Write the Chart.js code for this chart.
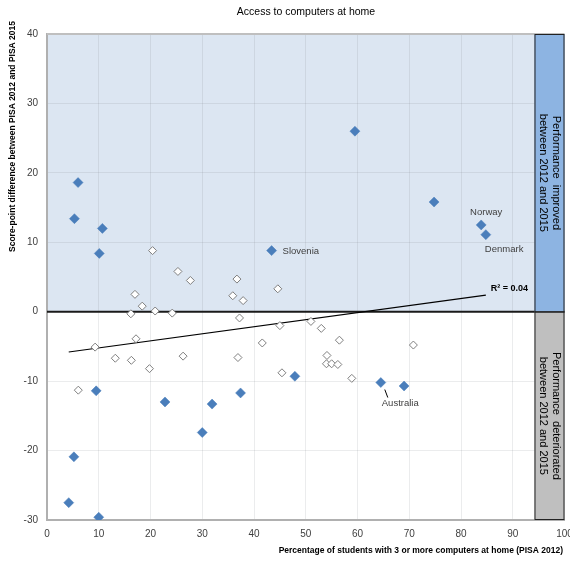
<!DOCTYPE html>
<html>
<head>
<meta charset="utf-8">
<script src="https://cdn.jsdelivr.net/npm/chart.js@4/dist/chart.umd.min.js"></script>
<style>
  html, body { margin: 0; padding: 0; background: #fff; }
</style>
</head>
<body>
<canvas id="chart" width="570" height="561"></canvas>
<script>
// significant changes (filled diamonds)
const sigX = [6.0, 5.3, 10.7, 10.1, 43.4, 59.5, 74.8, 83.9, 84.8, 9.5, 22.8, 31.9, 37.4, 30.0, 5.2, 4.2, 10.0, 47.9, 64.5, 69.0];
const sigY = [18.6, 13.4, 12.0, 8.4, 8.8, 26.0, 15.8, 12.5, 11.1, -11.4, -13.0, -13.3, -11.7, -17.4, -20.9, -27.5, -29.6, -9.3, -10.2, -10.7];
const sigNames = ["", "", "", "", "Slovenia", "", "", "Norway", "Denmark", "", "", "", "", "", "", "", "", "", "Australia", ""];

// non-significant changes (hollow diamonds)
const nsX = [20.4, 25.3, 27.7, 17.0, 18.4, 16.2, 20.9, 24.2, 36.7, 35.9, 37.9, 44.6, 37.2, 17.2, 9.3, 13.2, 16.3, 19.8, 26.3, 6.05, 45.0, 51.0, 53.0, 56.5, 41.6, 36.9, 54.1, 54.0, 55.0, 56.2, 45.4, 58.9, 70.8];
const nsY = [8.8, 5.8, 4.5, 2.5, 0.8, -0.3, 0.1, -0.2, 4.7, 2.3, 1.6, 3.3, -0.9, -3.9, -5.1, -6.7, -7.0, -8.2, -6.4, -11.3, -2.0, -1.4, -2.4, -4.1, -4.5, -6.6, -6.3, -7.5, -7.5, -7.6, -8.8, -9.6, -4.8];

// linear trend line
const trendX = [4.2, 84.8];
const trendY = [-5.8, 2.4];
const r2Label = "R² = 0.04";

const xTicks = [0, 10, 20, 30, 40, 50, 60, 70, 80, 90, 100];
const yTicks = [-30, -20, -10, 0, 10, 20, 30, 40];
const panelFrom = 94.2;

const FONT = "'Liberation Sans', Arial, sans-serif";

const decor = {
    id: 'decor',
    beforeDraw(chart) {
        const ctx = chart.ctx;
        const { left, right, top } = chart.chartArea;
        const y0 = chart.scales.y.getPixelForValue(0);
        ctx.save();
        ctx.fillStyle = '#fff';
        ctx.fillRect(0, 0, chart.width, chart.height);
        ctx.fillStyle = '#dce6f2';
        ctx.fillRect(left, top, right - left, y0 - top);
        ctx.restore();
    },
    beforeDatasetsDraw(chart) {
        const ctx = chart.ctx;
        const { left, right } = chart.chartArea;
        const y0 = chart.scales.y.getPixelForValue(0);
        ctx.save();
        ctx.strokeStyle = '#1a1a1a';
        ctx.lineWidth = 2;
        ctx.beginPath();
        ctx.moveTo(left, y0);
        ctx.lineTo(right, y0);
        ctx.stroke();
        ctx.restore();
    },
    afterDatasetsDraw(chart) {
        const ctx = chart.ctx;
        const xs = chart.scales.x, ys = chart.scales.y;
        const { left, right, top, bottom } = chart.chartArea;
        const y0 = ys.getPixelForValue(0);
        const px0 = xs.getPixelForValue(panelFrom);

        ctx.save();
        // top frame
        ctx.strokeStyle = '#bfbfbf';
        ctx.lineWidth = 2;
        ctx.beginPath();
        ctx.moveTo(left, top);
        ctx.lineTo(right, top);
        ctx.stroke();

        // side panels
        ctx.fillStyle = '#8db4e2';
        ctx.fillRect(px0, top, right - px0, y0 - top);
        ctx.fillStyle = '#bfbfbf';
        ctx.fillRect(px0, y0, right - px0, bottom - y0);
        ctx.strokeStyle = '#222';
        ctx.lineWidth = 1;
        ctx.strokeRect(px0 + 0.5, top + 0.5, right - px0 - 1, y0 - top);
        ctx.strokeRect(px0 + 0.5, y0, right - px0 - 1, bottom - y0 - 0.5);

        const vtext = (lines, cx, cy) => {
            ctx.save();
            ctx.translate(cx, cy);
            ctx.rotate(Math.PI / 2);
            ctx.fillStyle = '#000';
            ctx.font = "11px " + FONT;
            ctx.textAlign = 'center';
            ctx.textBaseline = 'middle';
            lines.forEach((l, i) => ctx.fillText(l, 0, (i - (lines.length - 1) / 2) * 12.5));
            ctx.restore();
        };
        const cx = (px0 + right) / 2;
        vtext(["Performance  improved", "between 2012 and 2015"], cx, (top + y0) / 2);
        vtext(["Performance  deteriorated", "between 2012 and 2015"], cx, (y0 + bottom) / 2);

        // point labels
        ctx.fillStyle = '#404040';
        ctx.font = "9.5px " + FONT;
        ctx.textBaseline = 'middle';
        sigNames.forEach((name, i) => {
            if (!name) return;
            const px = xs.getPixelForValue(sigX[i]);
            const py = ys.getPixelForValue(sigY[i]);
            if (name === 'Slovenia') {
                ctx.textAlign = 'left';
                ctx.fillText(name, px + 11, py + 1);
            } else if (name === 'Norway') {
                ctx.textAlign = 'center';
                ctx.fillText(name, px + 5, py - 13);
            } else if (name === 'Denmark') {
                ctx.textAlign = 'left';
                ctx.fillText(name, px - 1, py + 15);
            } else if (name === 'Australia') {
                ctx.strokeStyle = '#000';
                ctx.lineWidth = 1;
                ctx.beginPath();
                ctx.moveTo(px + 4, py + 7);
                ctx.lineTo(px + 7, py + 15);
                ctx.stroke();
                ctx.textAlign = 'left';
                ctx.fillText(name, px + 1, py + 21);
            }
        });

        // R² label
        ctx.font = "bold 9px " + FONT;
        ctx.fillStyle = '#000';
        ctx.textAlign = 'left';
        ctx.fillText(r2Label, xs.getPixelForValue(trendX[1]) + 5, ys.getPixelForValue(trendY[1]) - 7);

        // titles
        ctx.font = "10.5px " + FONT;
        ctx.textAlign = 'center';
        ctx.fillText("Access to computers at home", 306, 12);

        ctx.font = "bold 8.5px " + FONT;
        ctx.textAlign = 'right';
        ctx.fillText("Percentage of students with 3 or more computers at home (PISA 2012)", 563, 551);

        ctx.save();
        ctx.translate(13, 252);
        ctx.rotate(-Math.PI / 2);
        ctx.textAlign = 'left';
        ctx.fillText("Score-point difference between PISA 2012 and PISA 2015", 0, 0);
        ctx.restore();

        ctx.restore();
    }
};

new Chart(document.getElementById('chart').getContext('2d'), {
    type: 'scatter',
    data: {
        datasets: [
            {
                label: 'Significant',
                data: sigX.map((x, i) => ({ x: x, y: sigY[i] })),
                pointStyle: 'rectRot',
                pointRadius: 5,
                backgroundColor: '#4a7ebb',
                borderColor: '#4a7ebb',
                borderWidth: 0.5
            },
            {
                label: 'Not significant',
                data: nsX.map((x, i) => ({ x: x, y: nsY[i] })),
                pointStyle: 'rectRot',
                pointRadius: 4,
                backgroundColor: '#fff',
                borderColor: '#7f7f7f',
                borderWidth: 1
            },
            {
                type: 'line',
                label: 'Trend',
                data: trendX.map((x, i) => ({ x: x, y: trendY[i] })),
                borderColor: '#000',
                borderWidth: 1.2,
                pointRadius: 0,
                fill: false
            }
        ]
    },
    options: {
        responsive: false,
        animation: false,
        layout: { padding: { left: 0, top: 34, right: 5, bottom: 0 } },
        plugins: {
            legend: { display: false },
            tooltip: { enabled: false }
        },
        scales: {
            x: {
                type: 'linear',
                min: 0,
                max: 100,
                afterBuildTicks: (s) => { s.ticks = xTicks.map(v => ({ value: v })); },
                afterFit: (s) => { s.height = 41; s.paddingLeft = 0; s.paddingRight = 0; },
                grid: { color: 'rgba(110,120,130,0.14)', drawTicks: false },
                border: { color: '#b0b0b0', width: 2 },
                ticks: { color: '#404040', font: { family: FONT, size: 10 }, padding: 8 }
            },
            y: {
                type: 'linear',
                min: -30,
                max: 40,
                afterBuildTicks: (s) => { s.ticks = yTicks.map(v => ({ value: v })); },
                afterFit: (s) => { s.width = 47; s.paddingTop = 0; s.paddingBottom = 0; },
                grid: { color: 'rgba(110,120,130,0.14)', drawTicks: false },
                border: { color: '#b0b0b0', width: 2 },
                ticks: { color: '#404040', font: { family: FONT, size: 10 }, padding: 9 }
            }
        }
    },
    plugins: [decor]
});
</script>
</body>
</html>
